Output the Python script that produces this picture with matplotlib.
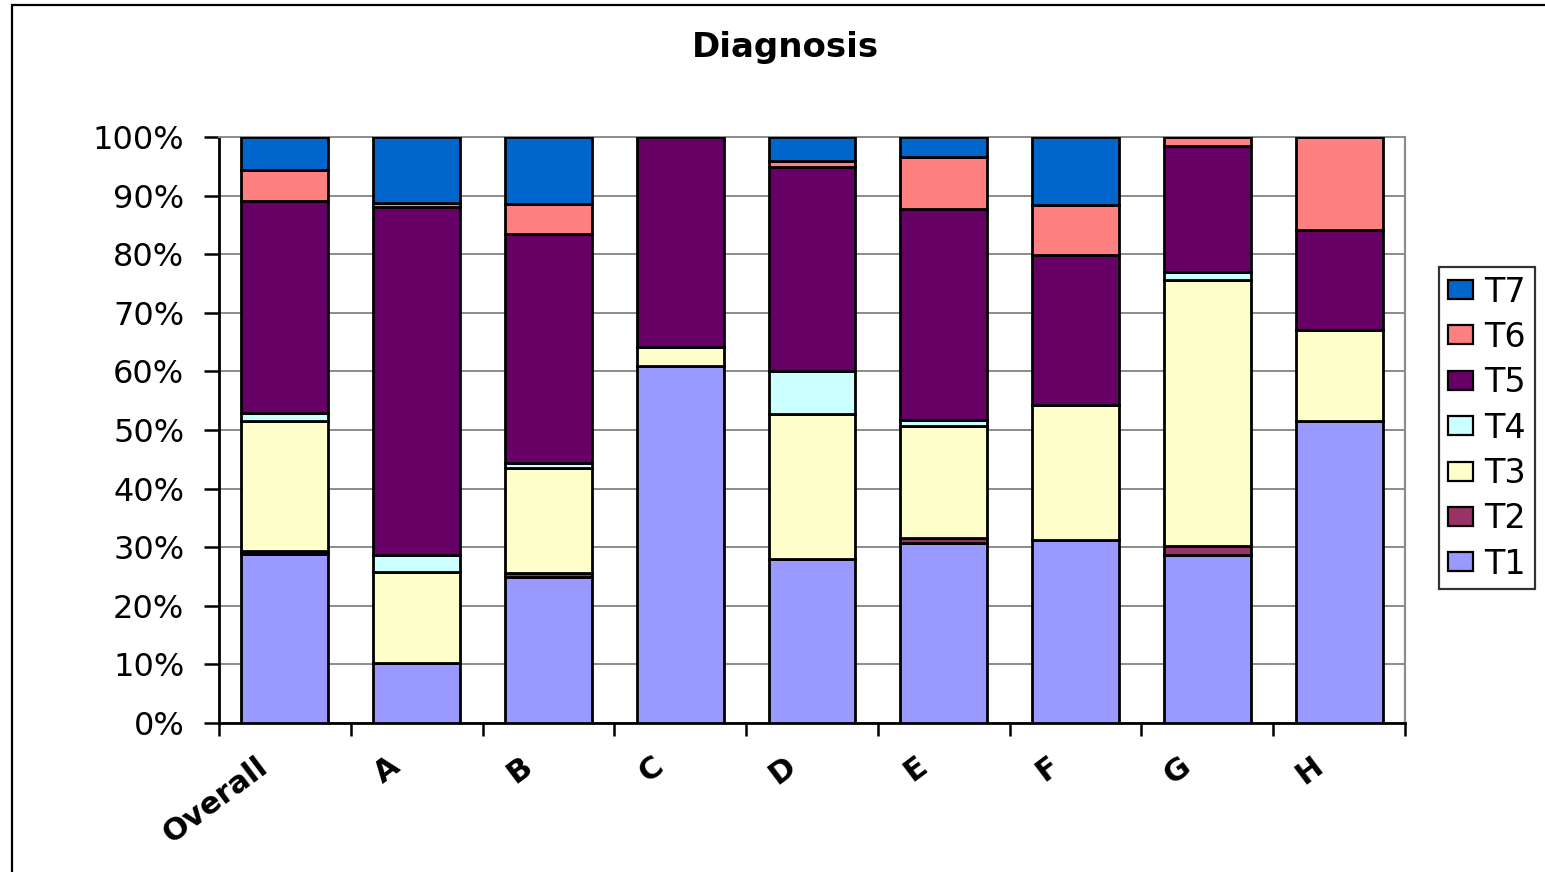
import matplotlib
matplotlib.use("Agg")
import matplotlib.pyplot as plt
from matplotlib.patches import Rectangle, Patch
from matplotlib.transforms import ScaledTranslation
import numpy as np

categories = ["Overall", "A", "B", "C", "D", "E", "F", "G", "H"]
series_names = ["T1", "T2", "T3", "T4", "T5", "T6", "T7"]

t1 = [28.8, 10.2, 24.9, 61.0, 28.0, 30.8, 31.2, 28.7, 51.5]
t2 = [0.5, 0.0, 0.7, 0.0, 0.0, 0.7, 0.0, 1.5, 0.0]
t3 = [22.2, 15.6, 18.0, 3.2, 24.8, 19.2, 23.1, 45.4, 15.6]
t4 = [1.4, 2.9, 0.7, 0.0, 7.2, 1.0, 0.0, 1.4, 0.0]
t5 = [36.2, 59.4, 39.2, 35.8, 34.8, 36.0, 25.6, 21.5, 17.1]
t6 = [5.3, 0.7, 5.0, 0.0, 1.1, 8.9, 8.5, 1.5, 15.8]
t7 = [5.6, 11.2, 11.5, 0.0, 4.1, 3.4, 11.6, 0.0, 0.0]

y_ticks = [0, 10, 20, 30, 40, 50, 60, 70, 80, 90, 100]
y_tick_labels = [f"{v}%" for v in y_ticks]

colors = ["#9999FF", "#993366", "#FFFFCC", "#CCFFFF", "#660066", "#FF8080", "#0066CC"]
series = [t1, t2, t3, t4, t5, t6, t7]

W, H = 1545, 872
fig = plt.figure(figsize=(W / 100, H / 100), dpi=100)
fig.patch.set_facecolor("white")

# outer chart frame (cut by the right and bottom edges of the image)
fig.patches.append(Rectangle((12 / W, -0.05), 1.2, 1 - 5 / H + 0.05,
                             transform=fig.transFigure, fill=False,
                             edgecolor="black", linewidth=1.6, zorder=0))

ax = fig.add_axes([219 / W, 1 - 723 / H, 1186 / W, 586 / H])
ax.set_facecolor("white")

x = np.arange(len(categories)) + 0.5
bottom = np.zeros(len(categories))
for name, vals, col in zip(series_names, series, colors):
    vals = np.array(vals)
    ax.bar(x, vals, width=0.66, bottom=bottom, color=col, edgecolor="black",
           linewidth=2.0, label=name, zorder=3)
    bottom += vals

ax.set_xlim(0, len(categories))
ax.set_ylim(0, 100)

ax.set_yticks(y_ticks)
ax.set_yticklabels(y_tick_labels, fontsize=23)
ax.yaxis.grid(True, color="#8c8c8c", linewidth=1.4, zorder=0)
ax.set_axisbelow(True)

ax.set_xticks(np.arange(len(categories) + 1))
ax.set_xticklabels([])
ax.set_xticks(x, minor=True)
ax.set_xticklabels(categories, minor=True, fontsize=22, fontweight="bold",
                   rotation=37, ha="right", va="center", rotation_mode="anchor")
ax.tick_params(axis="x", which="minor", length=0, pad=0)
ax.tick_params(axis="x", which="major", direction="out", length=9, width=1.8)
ax.tick_params(axis="y", direction="out", length=11, width=1.8, pad=14)
offset = ScaledTranslation(-0.2, -0.40, fig.dpi_scale_trans)
for lbl in ax.get_xticklabels(minor=True):
    lbl.set_transform(lbl.get_transform() + offset)

for side in ["left", "bottom"]:
    ax.spines[side].set_color("black")
    ax.spines[side].set_linewidth(2.0)
ax.spines["right"].set_color("#8c8c8c")
ax.spines["right"].set_linewidth(1.6)
ax.spines["top"].set_color("#8c8c8c")
ax.spines["top"].set_linewidth(1.4)

fig.text(785 / W, 1 - 47 / H, "Diagnosis", fontsize=24.5, fontweight="bold",
         ha="center", va="center")

handles = [Patch(facecolor=c, edgecolor="black", linewidth=1.6) for c in colors]
leg = fig.legend(handles[::-1], series_names[::-1],
                 loc="center", bbox_to_anchor=(1487 / W, 1 - 428 / H),
                 fontsize=24, frameon=True, fancybox=False, edgecolor="black",
                 handlelength=0.75, handleheight=0.5, handletextpad=0.35,
                 labelspacing=0.37, borderpad=0.25, borderaxespad=0)
leg.get_frame().set_linewidth(1.6)

fig.savefig("out.png", dpi=100, facecolor="white")
